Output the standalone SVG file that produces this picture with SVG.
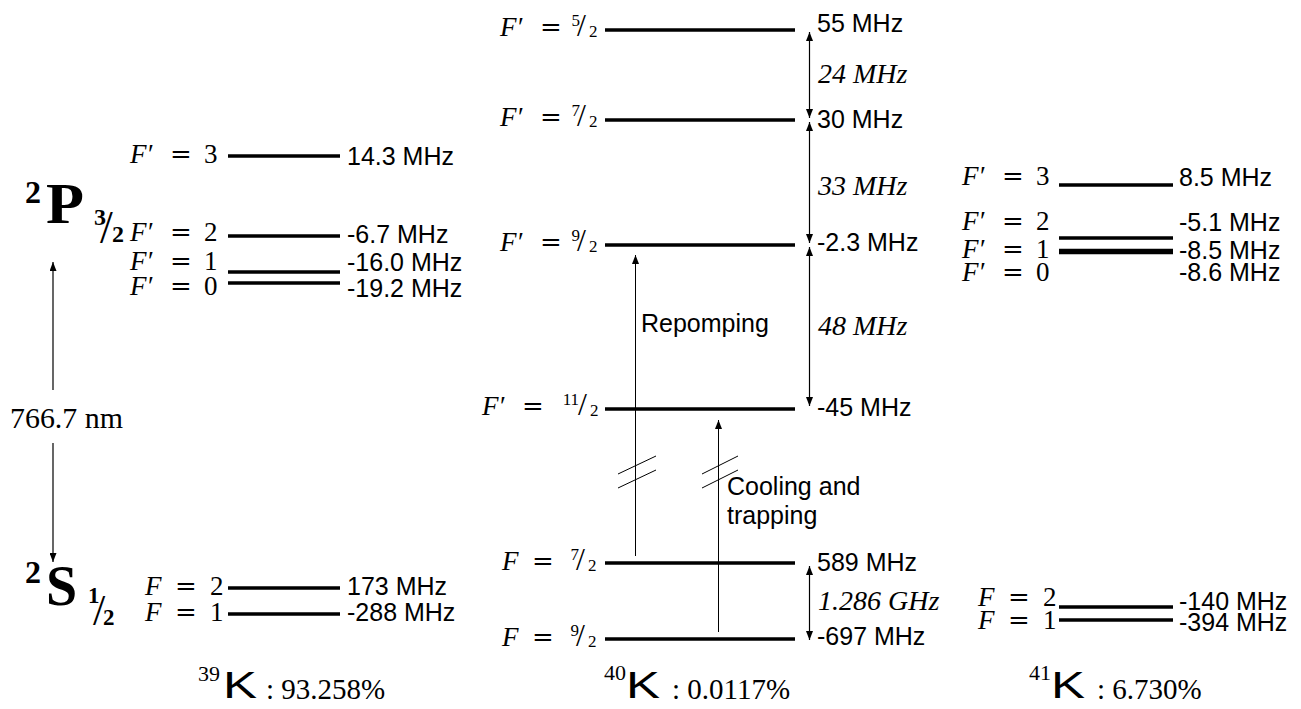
<svg xmlns="http://www.w3.org/2000/svg" width="1301" height="709" viewBox="0 0 1301 709">
<style>
.lvl{stroke:#000;stroke-width:3.5;fill:none}
.m{font-family:"Liberation Serif",serif;font-size:27px;fill:#000}
.mi{font-style:italic}
.eq{font-family:"DejaVu Serif",serif;font-size:26px}
.s{font-family:"Liberation Sans",Arial,sans-serif;font-size:25px;fill:#000}
.it{font-family:"Liberation Serif",serif;font-style:italic;font-size:28px;fill:#000}
.fr{font-family:"Liberation Serif",serif;font-size:17px;fill:#000}
.sl{font-family:"Liberation Serif",serif;font-size:32px;fill:#000}
.ar{stroke:#000;stroke-width:1.2;fill:none}
.th{stroke:#000;stroke-width:1;fill:none}
.big{font-family:"Liberation Serif",serif;font-weight:bold;fill:#000}
.iso{font-family:"Liberation Serif",serif;fill:#000}
.kk{font-family:"Liberation Sans",Arial,sans-serif;font-size:36px;fill:#000}
</style>
<defs>
<marker id="ah" viewBox="0 0 9 7" refX="9" refY="3.5" markerWidth="9" markerHeight="7" markerUnits="userSpaceOnUse" orient="auto-start-reverse"><path d="M0,0 L9,3.5 L0,7 z" fill="#000"/></marker>
</defs>

<!-- 39K -->
<g id="k39-term-P">
<text class="big" x="25" y="203" font-size="32">2</text>
<text class="big" x="46" y="223" font-size="56" textLength="38" lengthAdjust="spacingAndGlyphs">P</text>
<text class="big" x="94" y="225" font-size="24">3</text>
<text class="iso" x="100" y="243" font-size="46">/</text>
<text class="big" x="112" y="242" font-size="24">2</text>
</g>
<g id="k39-term-S">
<text class="big" x="25" y="583" font-size="32">2</text>
<text class="big" x="46" y="605" font-size="56">S</text>
<text class="big" x="88" y="603" font-size="23">1</text>
<text class="iso" x="93" y="625" font-size="44">/</text>
<text class="big" x="103" y="625" font-size="23">2</text>
</g>
<g id="k39-Fp3">
<line class="lvl" x1="228" y1="156" x2="340" y2="156"/>
<text class="m" y="163"><tspan class="mi" x="130">F</tspan><tspan x="148">′</tspan><tspan class="eq" x="170">=</tspan><tspan x="204">3</tspan></text>
<text class="s" x="347" y="165">14.3 MHz</text>
</g>
<g id="k39-Fp2">
<line class="lvl" x1="228" y1="236" x2="340" y2="236"/>
<text class="m" y="241"><tspan class="mi" x="130">F</tspan><tspan x="148">′</tspan><tspan class="eq" x="170">=</tspan><tspan x="204">2</tspan></text>
<text class="s" x="347" y="243">-6.7 MHz</text>
</g>
<g id="k39-Fp1">
<line class="lvl" x1="228" y1="272" x2="340" y2="272"/>
<text class="m" y="270"><tspan class="mi" x="130">F</tspan><tspan x="148">′</tspan><tspan class="eq" x="170">=</tspan><tspan x="204">1</tspan></text>
<text class="s" x="347" y="271">-16.0 MHz</text>
</g>
<g id="k39-Fp0">
<line class="lvl" x1="228" y1="283" x2="340" y2="283"/>
<text class="m" y="295"><tspan class="mi" x="130">F</tspan><tspan x="148">′</tspan><tspan class="eq" x="170">=</tspan><tspan x="204">0</tspan></text>
<text class="s" x="347" y="297">-19.2 MHz</text>
</g>
<g id="k39-F2">
<line class="lvl" x1="228" y1="588" x2="340" y2="588"/>
<text class="m" y="595"><tspan class="mi" x="145">F</tspan><tspan class="eq" x="175">=</tspan><tspan x="210">2</tspan></text>
<text class="s" x="347" y="595">173 MHz</text>
</g>
<g id="k39-F1">
<line class="lvl" x1="228" y1="614" x2="340" y2="614"/>
<text class="m" y="621"><tspan class="mi" x="145">F</tspan><tspan class="eq" x="175">=</tspan><tspan x="210">1</tspan></text>
<text class="s" x="347" y="621">-288 MHz</text>
</g>
<g id="k39-label">
<text class="iso" x="198" y="681" font-size="22">39</text>
<text class="kk" x="223" y="698" textLength="34" lengthAdjust="spacingAndGlyphs">K</text>
<text class="iso" x="266" y="699" font-size="29">: 93.258%</text>
</g>
<g id="k39-wavelength">
<text class="iso" x="10" y="428" font-size="29" textLength="113" lengthAdjust="spacingAndGlyphs">766.7 nm</text>
</g>

<!-- 40K -->
<g id="k40-Fp52">
<line class="lvl" x1="605" y1="30" x2="795" y2="30"/>
<text class="m" y="36"><tspan class="mi" x="500">F</tspan><tspan x="518">′</tspan><tspan class="eq" x="540">=</tspan></text>
<text class="fr" x="580" y="26" text-anchor="end">5</text>
<text class="sl" x="577" y="36">/</text>
<text class="fr" x="589" y="37">2</text>
<text class="s" x="817" y="32">55 MHz</text>
</g>
<g id="k40-Fp72">
<line class="lvl" x1="605" y1="120" x2="795" y2="120"/>
<text class="m" y="126"><tspan class="mi" x="500">F</tspan><tspan x="518">′</tspan><tspan class="eq" x="540">=</tspan></text>
<text class="fr" x="580" y="116" text-anchor="end">7</text>
<text class="sl" x="577" y="126">/</text>
<text class="fr" x="589" y="127">2</text>
<text class="s" x="817" y="128">30 MHz</text>
</g>
<g id="k40-Fp92">
<line class="lvl" x1="605" y1="245" x2="795" y2="245"/>
<text class="m" y="251"><tspan class="mi" x="500">F</tspan><tspan x="518">′</tspan><tspan class="eq" x="540">=</tspan></text>
<text class="fr" x="580" y="241" text-anchor="end">9</text>
<text class="sl" x="577" y="251">/</text>
<text class="fr" x="589" y="252">2</text>
<text class="s" x="817" y="251">-2.3 MHz</text>
</g>
<g id="k40-Fp112">
<line class="lvl" x1="605" y1="409" x2="795" y2="409"/>
<text class="m" y="415"><tspan class="mi" x="482">F</tspan><tspan x="500">′</tspan><tspan class="eq" x="522">=</tspan></text>
<text class="fr" x="579" y="405" text-anchor="end">11</text>
<text class="sl" x="578" y="415">/</text>
<text class="fr" x="590" y="416">2</text>
<text class="s" x="817" y="416">-45 MHz</text>
</g>
<g id="k40-F72">
<line class="lvl" x1="605" y1="563" x2="795" y2="563"/>
<text class="m" y="570"><tspan class="mi" x="502">F</tspan><tspan class="eq" x="532">=</tspan></text>
<text class="fr" x="579" y="560" text-anchor="end">7</text>
<text class="sl" x="576" y="570">/</text>
<text class="fr" x="588" y="571">2</text>
<text class="s" x="817" y="571">589 MHz</text>
</g>
<g id="k40-F92">
<line class="lvl" x1="605" y1="639" x2="795" y2="639"/>
<text class="m" y="646"><tspan class="mi" x="502">F</tspan><tspan class="eq" x="532">=</tspan></text>
<text class="fr" x="579" y="636" text-anchor="end">9</text>
<text class="sl" x="576" y="646">/</text>
<text class="fr" x="588" y="647">2</text>
<text class="s" x="817" y="645">-697 MHz</text>
</g>
<g id="k40-splittings">
<text class="it" x="818" y="83">24 MHz</text>
<text class="it" x="818" y="195">33 MHz</text>
<text class="it" x="818" y="335">48 MHz</text>
<text class="it" x="818" y="610">1.286 GHz</text>
</g>
<g id="k40-transitions">
<text class="s" x="641" y="332">Repomping</text>
<text class="s" x="727" y="495">Cooling and</text>
<text class="s" x="727" y="524">trapping</text>
</g>
<g id="k40-label">
<text class="iso" x="604" y="680" font-size="22">40</text>
<text class="kk" x="626" y="698" textLength="34" lengthAdjust="spacingAndGlyphs">K</text>
<text class="iso" x="672" y="699" font-size="29">: 0.0117%</text>
</g>

<!-- 41K -->
<g id="k41-Fp3">
<line class="lvl" x1="1059" y1="185" x2="1173" y2="185"/>
<text class="m" y="185"><tspan class="mi" x="962">F</tspan><tspan x="980">′</tspan><tspan class="eq" x="1002">=</tspan><tspan x="1036">3</tspan></text>
<text class="s" x="1179" y="186">8.5 MHz</text>
</g>
<g id="k41-Fp2">
<line class="lvl" x1="1059" y1="238" x2="1173" y2="238"/>
<text class="m" y="230"><tspan class="mi" x="962">F</tspan><tspan x="980">′</tspan><tspan class="eq" x="1002">=</tspan><tspan x="1036">2</tspan></text>
<text class="s" x="1179" y="231">-5.1 MHz</text>
</g>
<g id="k41-Fp1">
<line class="lvl" x1="1059" y1="250.5" x2="1173" y2="250.5"/>
<text class="m" y="258"><tspan class="mi" x="962">F</tspan><tspan x="980">′</tspan><tspan class="eq" x="1002">=</tspan><tspan x="1036">1</tspan></text>
<text class="s" x="1179" y="259">-8.5 MHz</text>
</g>
<g id="k41-Fp0">
<line class="lvl" x1="1059" y1="252.5" x2="1173" y2="252.5"/>
<text class="m" y="281"><tspan class="mi" x="962">F</tspan><tspan x="980">′</tspan><tspan class="eq" x="1002">=</tspan><tspan x="1036">0</tspan></text>
<text class="s" x="1179" y="281">-8.6 MHz</text>
</g>
<g id="k41-F2">
<line class="lvl" x1="1059" y1="607" x2="1173" y2="607"/>
<text class="m" y="606"><tspan class="mi" x="978">F</tspan><tspan class="eq" x="1008">=</tspan><tspan x="1043">2</tspan></text>
<text class="s" x="1179" y="610">-140 MHz</text>
</g>
<g id="k41-F1">
<line class="lvl" x1="1059" y1="620" x2="1173" y2="620"/>
<text class="m" y="629"><tspan class="mi" x="978">F</tspan><tspan class="eq" x="1008">=</tspan><tspan x="1043">1</tspan></text>
<text class="s" x="1179" y="631">-394 MHz</text>
</g>
<g id="k41-label">
<text class="iso" x="1029" y="680" font-size="22">41</text>
<text class="kk" x="1051" y="698" textLength="34" lengthAdjust="spacingAndGlyphs">K</text>
<text class="iso" x="1097" y="699" font-size="29">: 6.730%</text>
</g>

<!-- connectors -->
<g id="connectors">
<path class="ar" d="M53,390 V262" marker-end="url(#ah)"/>
<path class="ar" d="M53,443 V562" marker-end="url(#ah)"/>
<path class="ar" d="M809.5,118 V32" marker-end="url(#ah)" marker-start="url(#ah)"/>
<path class="ar" d="M809.5,243 V122" marker-end="url(#ah)" marker-start="url(#ah)"/>
<path class="ar" d="M809.5,406 V247" marker-end="url(#ah)" marker-start="url(#ah)"/>
<path class="ar" d="M809.5,640 V566" marker-end="url(#ah)" marker-start="url(#ah)"/>
<path class="th" d="M635.5,556 V255" marker-end="url(#ah)"/>
<path class="th" d="M718.5,632 V420" marker-end="url(#ah)"/>
<path class="th" d="M618,474 L656,456 M618,488 L656,470"/>
<path class="th" d="M702,474 L738,456 M702,488 L738,470"/>
</g>
</svg>
